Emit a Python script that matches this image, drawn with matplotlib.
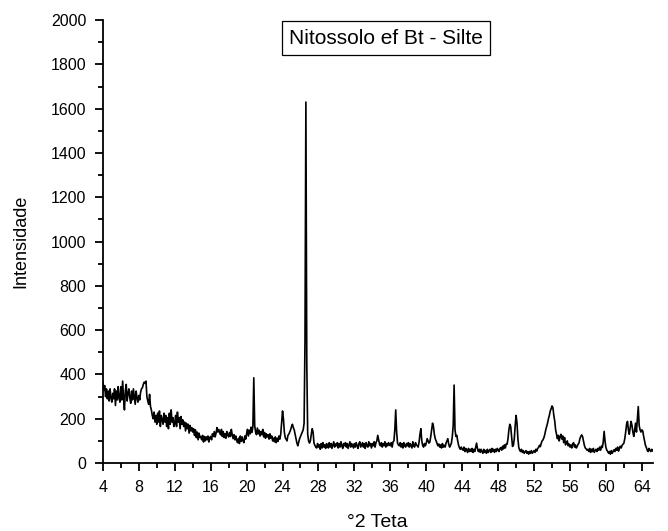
import numpy as np
import matplotlib
matplotlib.use("Agg")
import matplotlib.pyplot as plt
from matplotlib.ticker import MultipleLocator

plt.rcParams['font.family'] = ['Liberation Sans', 'DejaVu Sans']

# 2-theta grid (0.1 degree steps, 4.0 .. 65.2)
two_theta_start = 4.0
two_theta_step = 0.1

# intensity, one row per degree (x.0 .. x.9)
intensity = [
    365, 330, 350, 300, 335, 290, 325, 280, 335, 295,   # 4
    275, 315, 290, 335, 260, 325, 285, 345, 295, 275,   # 5
    345, 285, 370, 295, 240, 325, 355, 280, 315, 335,   # 6
    295, 270, 325, 285, 335, 300, 265, 325, 295, 275,   # 7
    305, 285, 320, 335, 340, 355, 365, 360, 370, 300,   # 8
    280, 265, 310, 255, 240, 215, 200, 230, 185, 215,   # 9
    175, 225, 185, 235, 165, 215, 195, 175, 225, 185,   # 10
    215, 165, 205, 155, 225, 175, 240, 185, 205, 165,   # 11
    180, 215, 165, 230, 185, 205, 155, 210, 175, 195,   # 12
    165, 185, 145, 180, 155, 175, 135, 170, 145, 160,   # 13
    140, 155, 125, 150, 115, 140, 105, 135, 115, 120,   # 14
    105, 125, 95, 120, 100, 118, 105, 122, 95, 115,     # 15
    120, 105, 132, 120, 142, 118, 135, 160, 140, 152,   # 16
    138, 128, 152, 120, 142, 115, 132, 112, 142, 128,   # 17
    118, 138, 120, 152, 128, 110, 128, 105, 122, 100,   # 18
    92, 112, 88, 122, 98, 118, 100, 92, 122, 108,       # 19
    132, 152, 122, 148, 132, 162, 138, 165, 385, 170,   # 20
    140, 128, 158, 132, 148, 122, 142, 128, 152, 118,   # 21
    138, 112, 132, 118, 128, 108, 132, 112, 122, 100,   # 22
    112, 96, 118, 92, 112, 98, 122, 108, 130, 180,      # 23
    235, 200, 140, 115, 108, 100, 125, 130, 140, 150,   # 24
    165, 175, 160, 150, 130, 110, 90, 78, 95, 110,      # 25
    120, 130, 140, 150, 180, 550, 1630, 450, 130, 100,  # 26
    90, 100, 130, 155, 140, 90, 80, 72, 68, 88,         # 27
    72, 82, 62, 88, 68, 92, 72, 82, 66, 88,             # 28
    80, 68, 92, 72, 88, 66, 82, 96, 72, 86,             # 29
    78, 92, 68, 88, 72, 96, 78, 66, 88, 78,             # 30
    92, 72, 88, 66, 82, 96, 72, 88, 78, 68,             # 31
    88, 72, 92, 78, 66, 88, 96, 72, 82, 92,             # 32
    72, 88, 66, 92, 78, 72, 96, 78, 88, 68,             # 33
    88, 78, 96, 72, 92, 100, 125, 105, 85, 78,          # 34
    92, 72, 88, 78, 96, 72, 88, 78, 92, 82,             # 35
    78, 92, 72, 95, 100, 150, 240, 140, 90, 82,         # 36
    78, 92, 72, 88, 68, 92, 78, 72, 88, 78,             # 37
    92, 72, 88, 78, 68, 96, 78, 72, 92, 82,             # 38
    78, 72, 95, 130, 155, 100, 80, 72, 88, 78,          # 39
    90, 110, 100, 90, 95, 120, 150, 180, 165, 130,      # 40
    110, 100, 88, 78, 86, 72, 82, 68, 88, 72,           # 41
    80, 72, 90, 100, 110, 85, 72, 80, 90, 120,          # 42
    170, 352, 150, 120, 125, 100, 80, 68, 62, 72,       # 43
    62, 58, 72, 52, 66, 58, 48, 66, 52, 62,             # 44
    52, 66, 48, 62, 52, 70, 90, 65, 52, 62,             # 45
    48, 62, 52, 44, 62, 48, 56, 44, 62, 48,             # 46
    56, 62, 48, 66, 52, 62, 48, 62, 52, 66,             # 47
    60, 52, 66, 70, 58, 76, 64, 82, 68, 86,             # 48
    85, 110, 150, 175, 165, 120, 75, 80, 110, 170,      # 49
    215, 180, 110, 70, 58, 52, 62, 48, 56, 44,          # 50
    50, 56, 44, 52, 40, 52, 44, 56, 44, 50,             # 51
    56, 48, 62, 54, 66, 70, 80, 74, 90, 100,            # 52
    105, 115, 130, 150, 165, 180, 200, 215, 235, 245,   # 53
    258, 250, 215, 190, 150, 130, 110, 125, 100, 120,   # 54
    130, 108, 122, 92, 115, 82, 92, 100, 78, 86,        # 55
    72, 82, 68, 86, 92, 72, 82, 68, 75, 85,             # 56
    90, 110, 120, 127, 120, 100, 80, 68, 64, 58,        # 57
    62, 52, 66, 48, 62, 52, 66, 48, 56, 62,             # 58
    52, 66, 58, 72, 58, 76, 70, 95, 143, 100,           # 59
    70, 58, 52, 44, 52, 40, 56, 44, 52, 60,             # 60
    52, 66, 58, 72, 54, 66, 76, 68, 80, 85,             # 61
    90, 110, 140, 175, 188, 150, 130, 160, 188, 170,    # 62
    140, 120, 150, 180, 140, 200, 255, 170, 150, 140,   # 63
    150, 145, 120, 100, 80, 70, 58, 52, 66, 58,         # 64
    52, 62, 55,                                          # 65
]

two_theta = np.round(two_theta_start + two_theta_step * np.arange(len(intensity)), 1)

x_ticks = [4, 8, 12, 16, 20, 24, 28, 32, 36, 40, 44, 48, 52, 56, 60, 64]
y_ticks = [0, 200, 400, 600, 800, 1000, 1200, 1400, 1600, 1800, 2000]
title_text = "Nitossolo ef Bt - Silte"

fig = plt.figure(figsize=(6.68, 5.31), dpi=100)
ax = fig.add_axes([0.154, 0.128, 0.823, 0.834])

ax.plot(two_theta, intensity, color='black', lw=1.2)

ax.set_xlim(4, 65.2)
ax.set_ylim(0, 2000)
ax.set_xticks(x_ticks)
ax.set_yticks(y_ticks)
ax.xaxis.set_minor_locator(MultipleLocator(2))
ax.yaxis.set_minor_locator(MultipleLocator(100))

for s in ['top', 'right']:
    ax.spines[s].set_visible(False)
for s in ['left', 'bottom']:
    ax.spines[s].set_linewidth(1.3)

ax.tick_params(which='major', direction='out', length=6, width=1.3, labelsize=11.5, pad=6)
ax.tick_params(which='minor', direction='out', length=3.5, width=1.3)

ax.set_xlabel("°2 Teta", fontsize=14, labelpad=14)
ax.set_ylabel("Intensidade", fontsize=13, labelpad=15)

ax.text(35.5, 1919, title_text, fontsize=15, ha='center', va='center',
        bbox=dict(boxstyle='square,pad=0.35', facecolor='white', edgecolor='black', lw=0.9))

fig.savefig("out.png", dpi=100)
